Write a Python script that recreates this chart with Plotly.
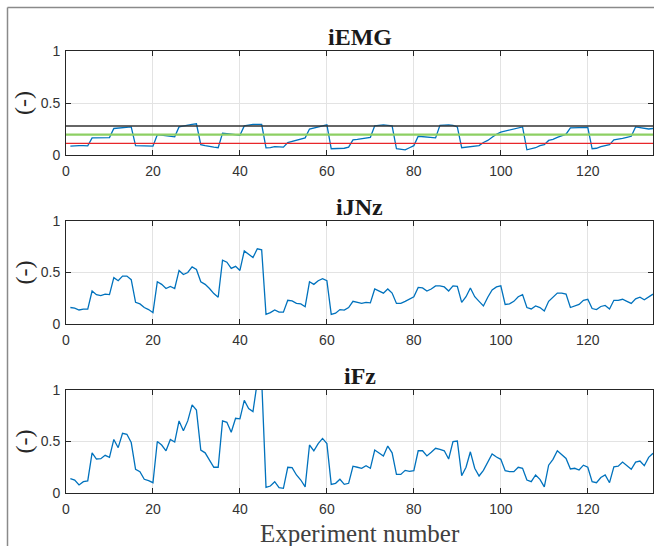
import plotly.graph_objects as go

experiments = list(range(1, 136))

iemg = [0.085, 0.09, 0.09, 0.09, 0.088,
        0.165, 0.165, 0.165, 0.165, 0.168,
        0.255, 0.26, 0.265, 0.265, 0.27,
        0.09, 0.09, 0.09, 0.088, 0.085,
        0.195, 0.19, 0.185, 0.18, 0.175,
        0.27, 0.28, 0.29, 0.295, 0.3,
        0.1, 0.09, 0.08, 0.075, 0.07,
        0.21, 0.205, 0.2, 0.195, 0.19,
        0.28, 0.29, 0.295, 0.295, 0.295,
        0.068, 0.07, 0.08, 0.08, 0.075,
        0.12, 0.13, 0.14, 0.15, 0.165,
        0.25, 0.26, 0.275, 0.285, 0.29,
        0.06, 0.06, 0.062, 0.065, 0.075,
        0.145, 0.15, 0.155, 0.16, 0.17,
        0.28, 0.285, 0.29, 0.285, 0.28,
        0.06, 0.055, 0.05, 0.07, 0.09,
        0.18, 0.175, 0.17, 0.165, 0.165,
        0.285, 0.29, 0.29, 0.285, 0.27,
        0.07, 0.075, 0.08, 0.085, 0.09,
        0.12, 0.14, 0.17, 0.2, 0.22,
        0.23, 0.24, 0.25, 0.26, 0.27,
        0.05, 0.06, 0.07, 0.09, 0.1,
        0.14, 0.15, 0.17, 0.185, 0.2,
        0.26, 0.26, 0.26, 0.26, 0.265,
        0.06, 0.065, 0.08, 0.09, 0.1,
        0.145, 0.15, 0.16, 0.17, 0.18,
        0.27, 0.265, 0.255, 0.25, 0.255]

ijnz = [0.16, 0.155, 0.136, 0.145, 0.145, 0.32, 0.285, 0.275, 0.29, 0.285,
        0.45, 0.42, 0.465, 0.465, 0.43, 0.21, 0.195, 0.16, 0.14, 0.11,
        0.41, 0.385, 0.345, 0.365, 0.345, 0.52, 0.48, 0.5, 0.555, 0.53,
        0.41, 0.385, 0.345, 0.295, 0.26, 0.62, 0.6, 0.54, 0.56, 0.52,
        0.71, 0.68, 0.645, 0.73, 0.72, 0.094, 0.11, 0.136, 0.115, 0.115,
        0.23, 0.225, 0.2, 0.195, 0.168, 0.41, 0.385, 0.42, 0.44, 0.42,
        0.094, 0.105, 0.14, 0.135, 0.16, 0.22, 0.21, 0.2, 0.21, 0.205,
        0.34, 0.32, 0.3, 0.34, 0.3, 0.2, 0.2, 0.22, 0.24, 0.265,
        0.355, 0.35, 0.32, 0.34, 0.37, 0.37, 0.36, 0.32, 0.37, 0.365,
        0.21, 0.265, 0.35, 0.265, 0.22, 0.175, 0.26, 0.33, 0.36, 0.37,
        0.19, 0.195, 0.22, 0.265, 0.285, 0.16, 0.146, 0.175, 0.16, 0.126,
        0.22, 0.265, 0.3, 0.3, 0.29, 0.16, 0.175, 0.19, 0.23, 0.24,
        0.15, 0.14, 0.17, 0.18, 0.146, 0.23, 0.23, 0.24, 0.22, 0.2,
        0.245, 0.26, 0.236, 0.26, 0.29]

ifz = [0.14, 0.126, 0.078, 0.11, 0.117, 0.39, 0.33, 0.333, 0.366, 0.346,
       0.52, 0.44, 0.58, 0.57, 0.49, 0.23, 0.207, 0.133, 0.12, 0.1,
       0.5, 0.466, 0.41, 0.52, 0.495, 0.7, 0.605, 0.7, 0.855, 0.805,
       0.417, 0.39, 0.32, 0.25, 0.25, 0.7, 0.686, 0.59, 0.725, 0.72,
       0.9, 0.82, 0.79, 1.08, 1.1, 0.055, 0.068, 0.11, 0.052, 0.045,
       0.25, 0.246, 0.175, 0.126, 0.06, 0.466, 0.41, 0.48, 0.53, 0.48,
       0.084, 0.094, 0.133, 0.084, 0.094, 0.26, 0.25, 0.24, 0.265, 0.24,
       0.417, 0.385, 0.36, 0.456, 0.39, 0.18, 0.18, 0.22, 0.21, 0.217,
       0.41, 0.41, 0.36, 0.395, 0.434, 0.424, 0.41, 0.33, 0.5, 0.505,
       0.168, 0.25, 0.4, 0.24, 0.165, 0.22, 0.3, 0.38, 0.35, 0.327,
       0.217, 0.207, 0.207, 0.25, 0.24, 0.126, 0.11, 0.175, 0.133, 0.06,
       0.27, 0.327, 0.41, 0.37, 0.336, 0.233, 0.24, 0.223, 0.27, 0.25,
       0.11, 0.1, 0.15, 0.175, 0.1, 0.255, 0.26, 0.3, 0.265, 0.23,
       0.3, 0.31, 0.265, 0.346, 0.385]

ref_levels = [0.279, 0.195, 0.112]
ref_colors = ["#333333", "#8dcf63", "#e8262a"]
ref_widths = [1.6, 2.2, 1.4]

titles = ["iEMG", "iJNz", "iFz"]
series = [iemg, ijnz, ifz]
x_ticks = [0, 20, 40, 60, 80, 100, 120]
y_ticks = [0, 0.5, 1]
y_ticklabels = ["0", "0.5", "1"]

W, H = 654, 546
x0px, x1px = 66, 653
panels_px = [(51, 155), (221, 324), (390, 493)]
title_px = [37, 207, 376]

def py(v):
    return 1 - v / H

fig = go.Figure()
layout = dict(width=W, height=H, margin=dict(l=0, r=0, t=0, b=0),
              paper_bgcolor="white", plot_bgcolor="white", showlegend=False)

annotations = []
shapes = []
axis_color = "#262626"
tick_font = dict(family="Liberation Sans, Arial, sans-serif", size=14, color="#333333")

for i, (name, ys) in enumerate(zip(titles, series)):
    n = i + 1
    xa = "x" if n == 1 else f"x{n}"
    ya = "y" if n == 1 else f"y{n}"
    fig.add_trace(go.Scatter(x=experiments, y=ys, mode="lines",
                             line=dict(color="#0072BD", width=1.3),
                             xaxis=xa, yaxis=ya, hoverinfo="skip"))
    if n == 1:
        for lvl, col, w in zip(ref_levels, ref_colors, ref_widths):
            fig.add_trace(go.Scatter(x=[0, 135], y=[lvl, lvl], mode="lines",
                                     line=dict(color=col, width=w),
                                     xaxis=xa, yaxis=ya, hoverinfo="skip"))
    top, bot = panels_px[i]
    xkey = "xaxis" if n == 1 else f"xaxis{n}"
    ykey = "yaxis" if n == 1 else f"yaxis{n}"
    layout[xkey] = dict(domain=[x0px / W, x1px / W], range=[0, 135],
                        anchor=ya, tickmode="array", tickvals=x_ticks,
                        ticks="inside", ticklen=5, tickcolor=axis_color,
                        showline=True, linecolor=axis_color, linewidth=1,
                        mirror="ticks", showgrid=True, gridcolor="#e3e3e3",
                        gridwidth=1, zeroline=False, tickfont=tick_font,
                        ticklabelstandoff=3, automargin=False)
    layout[ykey] = dict(domain=[py(bot), py(top)], range=[0, 1],
                        anchor=xa, tickmode="array", tickvals=y_ticks,
                        ticktext=y_ticklabels,
                        ticks="inside", ticklen=5, tickcolor=axis_color,
                        showline=True, linecolor=axis_color, linewidth=1,
                        mirror="ticks", showgrid=True, gridcolor="#e3e3e3",
                        gridwidth=1, zeroline=False, tickfont=tick_font,
                        ticklabelstandoff=2, automargin=False)
    annotations.append(dict(text=f"<b>{name}</b>", x=(x0px + x1px) / 2 / W,
                            y=py(title_px[i]), xref="paper", yref="paper",
                            xanchor="center", yanchor="middle", showarrow=False,
                            font=dict(family="Liberation Serif, Times New Roman, serif",
                                      size=24, color="#1a1a1a")))
    annotations.append(dict(text="(-)", x=23 / W, y=py((top + bot) / 2),
                            xref="paper", yref="paper", textangle=-90,
                            xanchor="center", yanchor="middle", showarrow=False,
                            font=dict(family="Liberation Serif, Times New Roman, serif",
                                      size=24, color="#262626")))

annotations.append(dict(text="Experiment number", x=(x0px + x1px) / 2 / W,
                        y=py(533), xref="paper", yref="paper",
                        xanchor="center", yanchor="middle", showarrow=False,
                        font=dict(family="Liberation Serif, Times New Roman, serif",
                                  size=25, color="#404040")))

shapes.append(dict(type="line", xref="paper", yref="paper",
                   x0=7.5 / W, x1=7.5 / W, y0=0, y1=py(7.5),
                   line=dict(color="#8a8a8a", width=1.5)))
shapes.append(dict(type="line", xref="paper", yref="paper",
                   x0=7.5 / W, x1=1, y0=py(7.5), y1=py(7.5),
                   line=dict(color="#8a8a8a", width=1.5)))

layout["annotations"] = annotations
layout["shapes"] = shapes
fig.update_layout(**layout)
fig.write_html("out.html")
